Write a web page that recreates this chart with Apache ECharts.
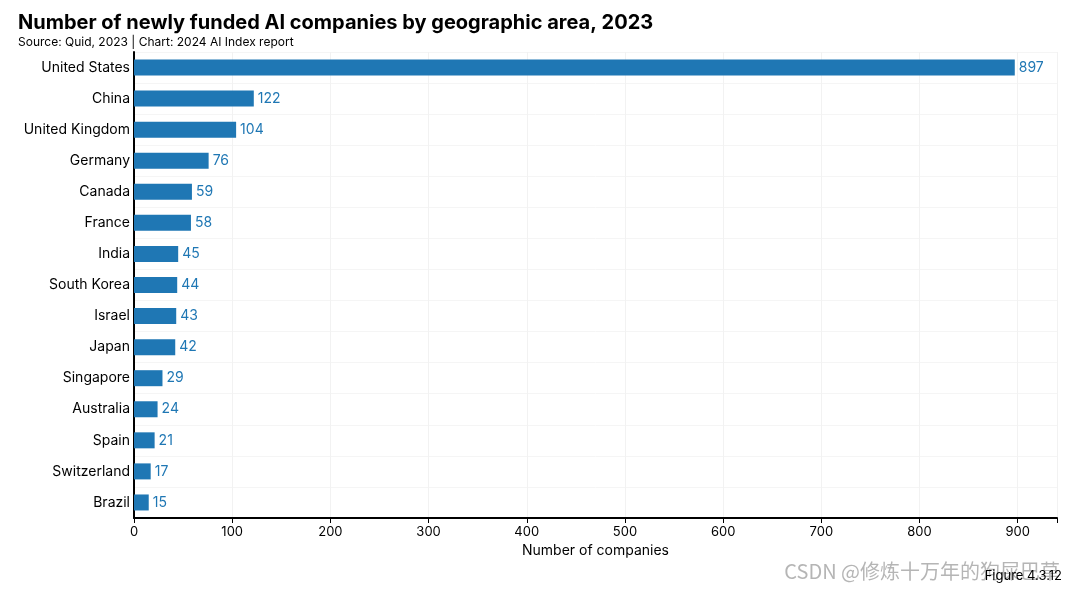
<!DOCTYPE html>
<html><head><meta charset="utf-8">
<script src="https://cdn.jsdelivr.net/npm/echarts@6/dist/echarts.min.js"></script>
<style>html,body{margin:0;padding:0;background:#fff}#c{width:1074px;height:591px}</style>
</head><body><div id="c"></div>
<script>
const categories = ["United States","China","United Kingdom","Germany","Canada","France","India","South Korea","Israel","Japan","Singapore","Australia","Spain","Switzerland","Brazil"];
const values = [897,122,104,76,59,58,45,44,43,42,29,24,21,17,15];
const xTicks = [0,100,200,300,400,500,600,700,800,900];

const chart = echarts.init(document.getElementById('c'));
const font = 'Inter, "Noto Sans", sans-serif';
chart.setOption({
  animation: false,
  title: {
    text: 'Number of newly funded AI companies by geographic area, 2023',
    subtext: 'Source: Quid, 2023 | Chart: 2024 AI Index report',
    left: 13, top: 8, itemGap: 3,
    textStyle: {fontFamily: font, fontSize: 20, fontWeight: 'bold', color: '#000'},
    subtextStyle: {fontFamily: font, fontSize: 12, color: '#000'}
  },
  grid: {left: 134, right: 17, top: 52, bottom: 73},
  xAxis: {
    type: 'value', min: 0, max: 940, interval: 100,
    name: 'Number of companies', nameLocation: 'middle', nameGap: 23,
    nameTextStyle: {fontFamily: font, fontSize: 14, color: '#000'},
    axisLine: {show: true, lineStyle: {color: '#000', width: 2}},
    axisTick: {show: true, length: 5, lineStyle: {color: '#000'}},
    axisLabel: {fontFamily: font, fontSize: 13, color: '#000', margin: 8,
      formatter: v => xTicks.includes(v) ? String(v) : ''},
    splitLine: {show: true, lineStyle: {color: '#f2f2f2'}}
  },
  yAxis: {
    type: 'category', data: categories, inverse: true,
    axisLine: {show: true, lineStyle: {color: '#000', width: 2}},
    axisTick: {show: false},
    axisLabel: {fontFamily: font, fontSize: 14, color: '#000', margin: 4},
    splitLine: {show: true, lineStyle: {color: '#f5f5f5'}}
  },
  series: [{
    type: 'bar', data: values, barWidth: 16,
    itemStyle: {color: '#1f77b4'},
    label: {show: true, position: 'right', distance: 4, fontFamily: font, fontSize: 14, color: '#1f77b4'}
  }],
  graphic: [
    {type: 'text', right: 14, top: 561, style: {text: 'CSDN @修炼十万年的狗屎巴草', font: '20px "Noto Sans CJK SC", sans-serif', fill: 'rgba(150,150,150,0.7)'}},
    {type: 'text', right: 12, top: 570, style: {text: 'Figure 4.3.12', font: '13px ' + font, fill: '#000'}}
  ]
});
</script></body></html>
